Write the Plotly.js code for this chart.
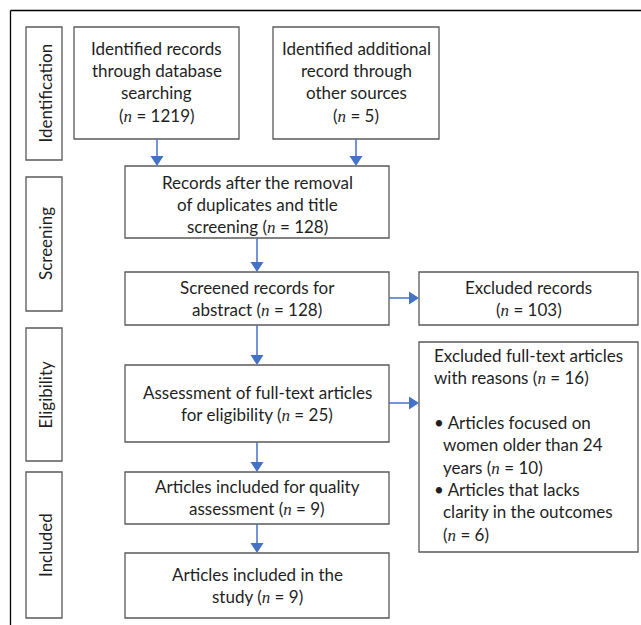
<!DOCTYPE html>
<html>
<head>
<meta charset="utf-8">
<script src="https://cdn.plot.ly/plotly-3.0.1.min.js"></script>
<style>html,body{margin:0;padding:0;background:#fff;}#chart{width:641px;height:625px;}</style>
</head>
<body>
<div id="chart"></div>
<script>
// ---- content ----
var stageNames = ["Identification", "Screening", "Eligibility", "Included"];
var counts = {
  database: 1219, other: 5, afterDup: 128, screened: 128, excluded: 103,
  fullText: 25, quality: 9, study: 9, excludedFull: 16, olderWomen: 10, lackClarity: 6
};
var N = function (v) { return '(<span style="font-family:\'Liberation Serif\'"><i>n</i></span> = ' + v + ')'; };
var boxLines = [
  ["Identified records", "through database", "searching", N(counts.database)],
  ["Identified additional", "record through", "other sources", N(counts.other)],
  ["Records after the removal", "of duplicates and title", "screening " + N(counts.afterDup)],
  ["Screened records for", "abstract " + N(counts.screened)],
  ["Excluded records", N(counts.excluded)],
  ["Assessment of full-text articles", "for eligibility " + N(counts.fullText)],
  ["Articles included for quality", "assessment " + N(counts.quality)],
  ["Articles included in the", "study " + N(counts.study)]
];
var reasonLines = [
  "Excluded full-text articles",
  "with reasons " + N(counts.excludedFull),
  "",
  "\u2022 Articles focused on",
  "  women older than 24",
  "  years " + N(counts.olderWomen),
  "\u2022 Articles that lacks",
  "  clarity in the outcomes",
  "  " + N(counts.lackClarity)
];

// ---- geometry (pixel space) ----
var stageBoxes = [[26, 27, 62, 160], [26, 177, 62, 311], [26, 328, 62, 461], [26, 472, 62, 618]];
var boxes = [
  [74, 27, 239, 139], [273, 27, 439, 139], [125, 166, 389, 238], [125, 272, 389, 325],
  [419, 272, 638, 325], [125, 365, 389, 442], [125, 472, 389, 524], [125, 553, 389, 618]
];
var lineTops = [48, 48, 182, 287, 287, 392, 486, 574];
var reasonBox = [419, 342, 638, 552];
var arrows = [
  [157, 139, 157, 166], [356, 139, 356, 166], [257, 238, 257, 272], [389, 298, 419, 298],
  [257, 325, 257, 365], [389, 403, 419, 403], [257, 442, 257, 472], [257, 524, 257, 553]
];

var TEXT = "#1f1f1f", BORDER = "#595959", BLUE = "#4472C4", FONT = "Lato", FS = 17;
var shapes = [], ann = [];
var LS = 22.4;

// outer frame
shapes.push({type: "line", x0: 10.5, y0: 10.5, x1: 641, y1: 10.5, line: {color: "#000", width: 1.3}});
shapes.push({type: "line", x0: 10.5, y0: 10.5, x1: 10.5, y1: 625, line: {color: "#000", width: 1.3}});

stageBoxes.forEach(function (b, i) {
  shapes.push({type: "rect", x0: b[0], y0: b[1], x1: b[2], y1: b[3], line: {color: BORDER, width: 1.3}});
  ann.push({x: (b[0] + b[2]) / 2 + 1, y: (b[1] + b[3]) / 2, text: stageNames[i], textangle: -90,
    showarrow: false, font: {family: FONT, size: FS, color: TEXT}, xanchor: "center", yanchor: "middle"});
});

boxes.forEach(function (b, i) {
  shapes.push({type: "rect", x0: b[0], y0: b[1], x1: b[2], y1: b[3], line: {color: BORDER, width: 1.3}});
  boxLines[i].forEach(function (t, j) {
    ann.push({x: (b[0] + b[2]) / 2, y: lineTops[i] + j * LS, text: t, showarrow: false,
      font: {family: FONT, size: FS, color: TEXT}, xanchor: "center", yanchor: "middle"});
  });
});

shapes.push({type: "rect", x0: reasonBox[0], y0: reasonBox[1], x1: reasonBox[2], y1: reasonBox[3], line: {color: BORDER, width: 1.3}});
reasonLines.forEach(function (t, j) {
  if (!t) return;
  var indent = t.indexOf("  ") === 0;
  ann.push({x: indent ? 441 : 432, y: 355 + j * LS, text: indent ? t.slice(2) : t, showarrow: false,
    font: {family: FONT, size: FS, color: TEXT}, xanchor: "left", yanchor: "middle"});
});

arrows.forEach(function (a) {
  var h = 10, w = 6.5;
  if (a[0] === a[2]) {
    shapes.push({type: "line", x0: a[0], y0: a[1], x1: a[2], y1: a[3] - h, line: {color: BLUE, width: 1.5}});
    shapes.push({type: "path", path: "M" + (a[2] - w) + "," + (a[3] - h) + " L" + (a[2] + w) + "," + (a[3] - h) + " L" + a[2] + "," + a[3] + " Z",
      fillcolor: BLUE, line: {color: BLUE, width: 0}});
  } else {
    shapes.push({type: "line", x0: a[0], y0: a[1], x1: a[2] - h, y1: a[3], line: {color: BLUE, width: 1.5}});
    shapes.push({type: "path", path: "M" + (a[2] - h) + "," + (a[3] - w) + " L" + (a[2] - h) + "," + (a[3] + w) + " L" + a[2] + "," + a[3] + " Z",
      fillcolor: BLUE, line: {color: BLUE, width: 0}});
  }
});

var layout = {
  width: 641, height: 625, margin: {l: 0, r: 0, t: 0, b: 0},
  paper_bgcolor: "#fff", plot_bgcolor: "#fff", showlegend: false,
  xaxis: {range: [0, 641], visible: false, fixedrange: true},
  yaxis: {range: [625, 0], visible: false, fixedrange: true},
  shapes: shapes, annotations: ann
};
Plotly.newPlot("chart", [], layout, {staticPlot: true, displayModeBar: false});
</script>
</body>
</html>
